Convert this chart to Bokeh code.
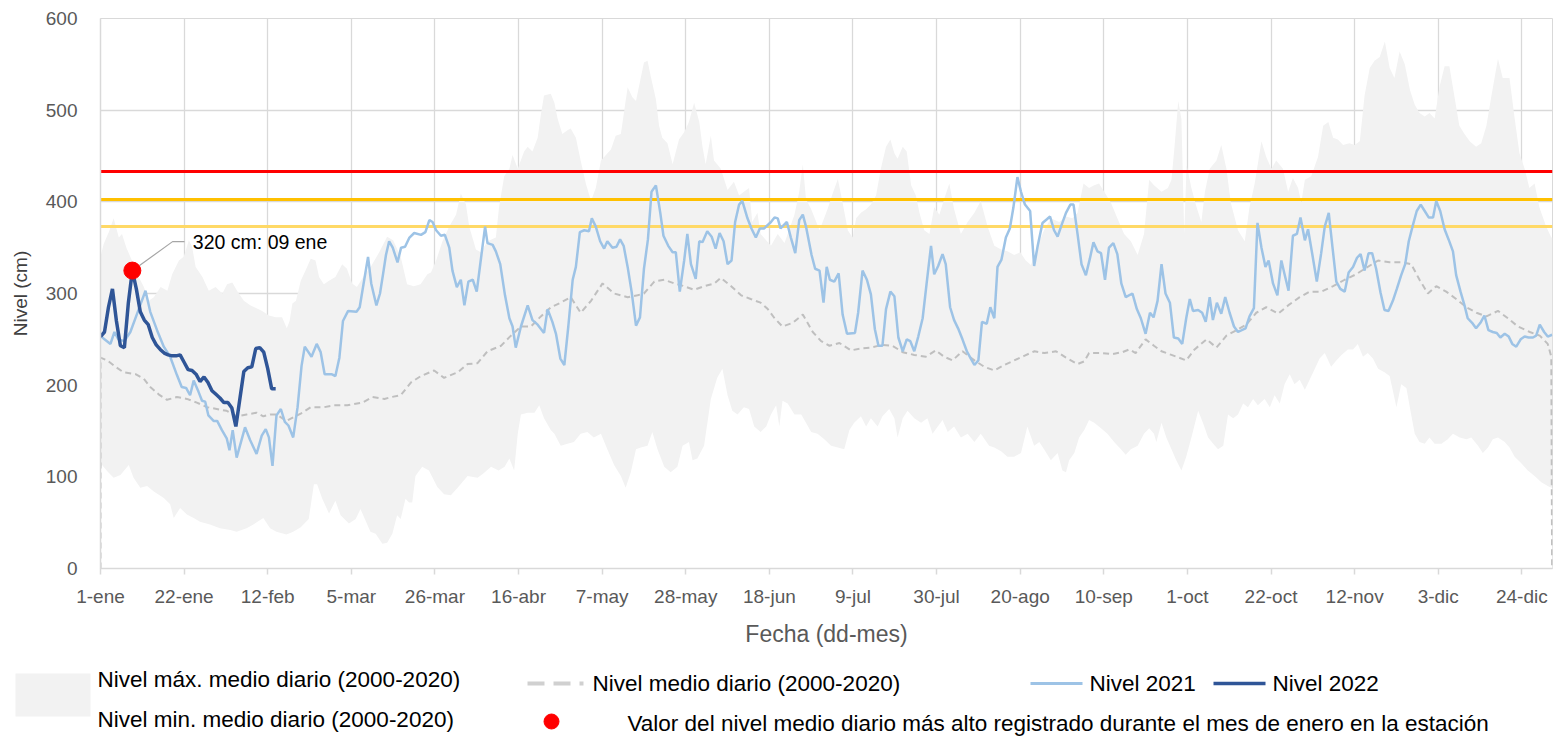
from bokeh.plotting import figure
from bokeh.models import Range1d, FixedTicker, ColumnDataSource
from bokeh.embed import file_html
from bokeh.resources import INLINE
from bokeh.core.properties import value

FONT = "Liberation Sans"

# ---------------- data ----------------
tick_days = [1, 22, 43, 64, 85, 106, 127, 148, 169, 190, 211, 232, 253, 274, 295, 316, 337, 358]
tick_labels = ["1-ene", "22-ene", "12-feb", "5-mar", "26-mar", "16-abr", "7-may", "28-may", "18-jun",
               "9-jul", "30-jul", "20-ago", "10-sep", "1-oct", "22-oct", "12-nov", "3-dic", "24-dic"]

max_days = [1, 1.8, 3.1, 4.3, 5.6, 6.4, 7.5, 9, 10.6, 11.9, 13.1, 14.4, 16.1, 17.8, 19, 20.7, 21.9, 23.2, 24, 24.9,
            26.6, 28.2, 29.9, 31.6, 32.8, 34.1, 35.3, 37, 38.7, 41.6, 43.3, 45, 46.6, 47.8, 48.5, 49.2, 50.1, 51.3,
            52.5, 53.8, 55, 55.9, 57.1, 58.4, 60, 61.7, 62.9, 64.2, 65.4, 67, 69, 71, 73, 74.5, 76.4, 78, 79.7,
            81.4, 83.1, 84, 85.3, 86.9, 88.6, 90.3, 91.5, 92.8, 93.6, 95.3, 96.5, 98.2, 100.3, 101.1, 102.4, 103.7,
            104.5, 105.8, 107.4, 108.3, 109.5, 110.8, 111.6, 112.4, 114.1, 115, 115.8, 117, 118.3, 119.1, 120.4,
            121.6, 122.9, 124.2, 125.4, 126.7, 127.5, 129.2, 130.4, 131.7, 133.4, 134.6, 135.5, 136.3, 137.5,
            138.4, 139.2, 140.5, 141.3, 142.1, 143.4, 144.7, 146.3, 147.6, 148.8, 150.1, 151.4, 152.2, 153, 154.3,
            155.1, 156.8, 158.5, 160.1, 161.4, 162.6, 163.9, 164.7, 166, 166.8, 169.4, 171.1, 172.8, 175.3, 176.5,
            177.4, 178.2, 179.5, 181.6, 183.6, 184.9, 186.2, 187.4, 188.7, 189.9, 190.8, 192, 193.3, 194.5, 195.8,
            197, 198.3, 199.4, 200.4, 201.2, 202.5, 203.5, 204.6, 205.8, 206.7, 207.9, 209.2, 210.4, 211.7, 212.9,
            214.2, 215.4, 217.1, 218.8, 220.5, 222.1, 223.8, 225.5, 227.2, 228.8, 230.5, 232, 233.4, 234.7, 236.4,
            238, 239.7, 241.8, 243.5, 245.1, 246.4, 247.9, 249.3, 250.6, 251.8, 253.1, 254.8, 256.4, 258.1, 259.8,
            261.5, 263.1, 264.4, 265.6, 267.5, 269.1, 270, 270.8, 271.7, 272.5, 273.2, 273.8, 275, 276.3, 277.5,
            278.4, 279.6, 281.3, 282.5, 283.8, 284.9, 286.7, 288.4, 289.6, 290.9, 292.6, 293.8, 295.1, 296.3, 298,
            299.3, 300.5, 301.8, 302.6, 303.5, 305.1, 306.8, 308.1, 309.4, 310.6, 311.8, 313.1, 314.7, 316, 317.3,
            318.5, 319.8, 321, 322.3, 323.6, 324.8, 326, 327.3, 328.6, 329.9, 331.1, 332.3, 333.6, 334.8, 336.1,
            337.3, 338.6, 339.8, 341.1, 342.3, 343.6, 344.9, 346.5, 347.8, 349.1, 350.3, 352, 353.2, 354.9, 356.2,
            357.4, 358.7, 359.9, 361.2, 362.4, 364.1, 365.4, 365.7]
max_vals = [340, 354, 367, 382, 361, 365, 350, 335, 318, 307, 292, 296, 307, 303, 321, 336, 340, 358, 351, 329,
            318, 303, 307, 300, 310, 312, 303, 292, 287, 281, 276, 274, 274, 262, 270, 289, 292, 314,
            325, 338, 336, 318, 310, 314, 318, 332, 327, 311, 307, 318, 330, 345, 362, 358, 340, 310, 308,
            310, 321, 323, 336, 357, 373, 386, 409, 397, 373, 348, 345, 357, 361, 394, 428, 436,
            451, 436, 455, 460, 455, 470, 495, 516, 518, 508, 491, 474, 478, 480, 470,
            445, 420, 401, 415, 445, 449, 457, 472, 474, 525, 514, 510, 527, 552,
            554, 537, 512, 483, 470, 464, 441, 468, 476, 487, 508, 487, 460, 441, 472,
            445, 436, 413, 422, 407, 411, 415, 378, 388, 365, 352, 365, 355, 386, 411,
            441, 403, 392, 369, 392, 409, 425, 399, 369, 361, 382, 388, 392, 397, 407,
            436, 460, 468, 453, 447, 460, 455, 418, 407, 388, 369, 365, 394, 386, 403,
            420, 392, 365, 378, 388, 401, 373, 352, 348, 346, 342, 345, 336, 331, 352,
            369, 382, 378, 384, 382, 388, 420, 415, 418, 420, 411, 399, 382, 365, 357,
            342, 365, 424, 418, 411, 415, 424, 462, 510, 490, 365, 440, 415, 394, 378,
            411, 436, 445, 462, 436, 399, 369, 357, 394, 420, 466, 449, 436, 445, 436,
            411, 426, 415, 399, 424, 428, 449, 483, 487, 470, 468, 462, 464, 462, 466,
            516, 546, 554, 558, 575, 546, 535, 564, 550, 522, 506, 497, 493, 497, 491,
            525, 548, 548, 514, 483, 474, 466, 460, 464, 483, 514, 556, 535, 535, 491,
            453, 436, 415, 420, 394, 373, 361, 361]

min_days = [1, 1.4, 2.7, 4.3, 6, 8.1, 9.3, 11, 12.7, 14.4, 16.9, 18.5, 19.4, 21, 22.7, 24.4, 26, 28.5, 31, 33.6,
            35.2, 37.7, 39.4, 41.9, 43.6, 45.2, 47.7, 49.4, 51.3, 53.3, 54.6, 55.4, 56.7, 58.4, 60, 61.3, 63.4,
            65.1, 66.3, 68.8, 70.1, 71.8, 73, 74.3, 75.5, 76.4, 77.6, 78.5, 79.3, 80.1, 81.8, 83.5, 85.6, 87.3,
            89, 90.7, 93.2, 95.7, 97, 99.1, 101, 102.5, 103.7, 104.9, 105.8, 106.6, 108.3, 110, 111.2, 112.4,
            114.1, 115, 116.6, 118.3, 119.9, 121.6, 123.3, 124.9, 126.7, 128.3, 130, 131.7, 132.9, 134.2, 135.5,
            136.7, 138.4, 139.6, 140.9, 142.6, 144.2, 145.9, 147.2, 148.8, 149.7, 150.9, 152.6, 154.3, 155.9,
            157.2, 158.5, 159.7, 161, 162.6, 163.9, 165.2, 166.8, 168.2, 169.4, 170.7, 171.5, 172.3, 173.6,
            175.3, 177, 178.2, 179.5, 181.1, 182.8, 184.5, 186.2, 187.8, 189.1, 190.3, 192, 193.3, 194.5, 196.2,
            197.4, 199.1, 200.4, 201.2, 202.5, 203.7, 205.4, 207.1, 208.7, 210, 211.3, 212.5, 213.8, 215.4,
            217.1, 218.8, 220.5, 222.1, 224.2, 225.5, 227.2, 228.8, 230.5, 232.2, 233.8, 235.5, 236.8, 238,
            239.7, 241.4, 242.6, 243.5, 244.3, 245.6, 246.8, 248.1, 249.3, 250.6, 252.3, 253.9, 255.6, 257.3,
            258.5, 259.8, 261.5, 263.1, 264.4, 265.6, 266.2, 267.5, 268.7, 270, 271.2, 272.5, 273.7, 275, 276.7,
            277.9, 279.2, 280.9, 281.7, 283, 284.2, 285.5, 286.7, 288, 289.2, 290.5, 291.7, 293.4, 294.7, 295.9,
            297.2, 298.4, 299.7, 300.9, 302.2, 303.5, 304.7, 306, 307.2, 308.5, 310.1, 311.4, 312.7, 314.3,
            315.6, 316.8, 318.1, 319.3, 320.6, 321.9, 323.5, 324.8, 326.5, 327.7, 329, 330.2, 331.1, 332.3,
            333.6, 334.8, 336.1, 337.8, 339.4, 340.7, 342.4, 344.1, 345.3, 347, 348.2, 349.5, 350.7, 352, 353.7,
            354.9, 356.2, 357.8, 359.5, 361.2, 362.9, 364.5, 365.4, 365.7]
min_vals = [110, 113, 106, 99, 102, 113, 99, 88, 90, 84, 77, 70, 55, 66, 59, 55, 51, 48, 44, 42,
            40, 44, 48, 55, 44, 40, 37, 40, 45, 54, 92, 92, 76, 60, 74, 58, 49,
            54, 65, 40, 38, 27, 28, 38, 58, 54, 76, 72, 72, 101, 111, 107, 89, 81,
            80, 88, 101, 99, 103, 111, 107, 111, 120, 107, 147, 168, 170, 170, 178, 164,
            151, 147, 134, 136, 138, 147, 149, 143, 147, 130, 113, 101, 88, 105, 130,
            132, 134, 149, 130, 111, 105, 111, 134, 138, 118, 120, 134, 185, 208,
            218, 189, 172, 168, 176, 174, 155, 149, 155, 168, 178, 155, 183, 180,
            168, 168, 159, 149, 147, 141, 134, 132, 130, 151, 159, 166, 155, 164, 155,
            166, 174, 164, 143, 164, 172, 164, 159, 164, 147, 155, 162, 149, 155,
            143, 147, 138, 147, 134, 132, 128, 122, 122, 126, 155, 134, 138, 130,
            118, 126, 107, 105, 118, 126, 143, 151, 162, 159, 153, 147, 138, 130,
            124, 130, 134, 147, 153, 147, 138, 159, 143, 130, 118, 107, 122, 143, 172,
            159, 143, 134, 130, 134, 168, 164, 168, 180, 176, 185, 178, 185, 176, 189,
            180, 201, 212, 201, 206, 195, 206, 218, 229, 235, 220, 227, 233, 239,
            239, 245, 231, 235, 229, 218, 214, 210, 176, 201, 197, 168, 147, 138,
            136, 143, 136, 136, 141, 147, 143, 141, 143, 134, 126, 132, 141, 143, 138,
            132, 122, 115, 107, 101, 94, 90, 88, 88]

mean_days = [1, 1, 2.7, 4.8, 6.8, 9.8, 11.9, 13.5, 15.6, 17.7, 20.2, 22.7, 25.2, 27.7, 30.2, 32.7, 35.2, 37.7,
             40.2, 41.9, 43.6, 45.2, 47.7, 49.4, 51.3, 53.8, 57.2, 59.7, 63, 66.8, 69.3, 72.3, 74, 76.4, 79,
             81.5, 84.8, 87.3, 90.7, 93.2, 95.7, 98.2, 101.6, 104.1, 106.6, 109.1, 111.6, 114.1, 116.6, 119.1,
             121.6, 124.2, 127.1, 130, 133.4, 135.9, 137.5, 140.1, 142.6, 145.1, 147.6, 150.1, 152.6, 155.2,
             156.8, 159.4, 161.9, 164.3, 166.8, 168.6, 170.3, 172.3, 174.9, 177.4, 179.9, 182, 184.1, 186.6,
             189.5, 192, 194.5, 197.4, 199.9, 202.5, 205.4, 208.3, 210.8, 212.9, 215, 217.5, 220.5, 223, 225.5,
             228, 230.5, 233, 235.6, 238.1, 241, 243.5, 246.4, 248.1, 249.3, 252.3, 255.2, 257.7, 259.4, 261,
             263.5, 265.6, 267.5, 270, 273.7, 275.8, 278.8, 281.3, 283.8, 286.3, 288.8, 291.3, 293.8, 296.8,
             299.3, 302.2, 304.7, 307.6, 310.6, 313.5, 316.4, 318.9, 321.9, 324.8, 328.1, 330.2, 332.3, 334.4,
             336.5, 339, 341.5, 344.1, 346.6, 349.1, 352, 354.5, 357, 360, 362.5, 364.5, 365.4, 365.6]
mean_vals = [0, 230, 227, 220, 214, 212, 207, 198, 190, 184, 187, 185, 181, 176, 174, 172, 166, 168,
             170, 166, 168, 168, 161, 165, 169, 176, 176, 178, 178, 181, 187, 185, 187, 189, 203,
             210, 216, 208, 214, 223, 224, 237, 243, 254, 264, 264, 275, 285, 290, 296,
             279, 292, 311, 300, 296, 298, 300, 313, 315, 311, 308, 304, 308, 311,
             317, 308, 298, 294, 290, 283, 273, 264, 268, 277, 258, 248, 243, 246,
             238, 240, 241, 244, 243, 236, 233, 231, 238, 231, 227, 237, 227, 220, 216,
             222, 227, 232, 237, 235, 237, 230, 223, 226, 235, 235, 234, 236, 239, 235,
             250, 243, 237, 233, 227, 239, 250, 241, 254, 260, 266, 279, 285, 278,
             287, 296, 302, 302, 308, 315, 321, 328, 336, 334, 334, 332, 315, 300,
             308, 302, 294, 285, 279, 275, 281, 273, 264, 258, 254, 245, 231, 0]

n2021_days = [1, 2, 3.5, 4.5, 5.5, 7, 8.5, 10.2, 12.3, 13.5, 15.2, 16.9, 18.5, 20.2, 21.4, 22.5, 23.5, 24.4, 25.6,
              26.5, 27.3, 28.1, 29.4, 30.3, 31.5, 32.7, 33.4, 34.2, 35.2, 37.3, 38.6, 40.2, 41.5, 42.5, 43.3, 44.2,
              45.2, 46.3, 47.3, 48.2, 49.4, 50.5, 51.5, 52.3, 54, 55.3, 56.3, 57.3, 59, 60, 61, 61.9, 63.2, 65.3,
              66.1, 68.2, 69, 70.3, 71.2, 72, 72.7, 73.5, 74.4, 75.6, 76.5, 77.5, 78.6, 79.8, 81.5, 82.6, 83.6,
              84.4, 85.3, 86.5, 87.5, 88.6, 89.4, 90.5, 91.5, 92.4, 93.4, 94.5, 95.5, 96.5, 97.6, 98.2, 99.5,
              100.3, 101.4, 102.6, 103.7, 104.5, 105.3, 106.6, 108.3, 109.5, 110.8, 112.4, 113.3, 114.5, 115.4,
              116.5, 117.5, 118.5, 119.6, 120.4, 121.4, 122.5, 123.7, 124.4, 125.4, 126.5, 127.5, 128.3, 129.6,
              130.6, 131.5, 132.4, 133.4, 134.4, 135.5, 136.5, 137.5, 138.5, 139.4, 140.5, 141.6, 142.4, 143.6,
              144.7, 145.5, 146.5, 147.6, 148.4, 149.3, 150.5, 151.4, 152.2, 153.4, 154.5, 155.5, 156.5, 157.5,
              158.5, 159.5, 160.4, 161.4, 162.2, 163.5, 164.5, 165.6, 166.6, 167.7, 169.4, 170.3, 171.1, 171.8,
              173.4, 174.4, 175.5, 176.5, 177.4, 178.2, 179.6, 180.5, 181.6, 182.6, 183.4, 184.2, 185.3, 186.4,
              187.4, 188.5, 190.5, 191.3, 192.4, 193.5, 194.5, 195.5, 196.4, 197.4, 198.3, 199.4, 200.4, 201.4,
              202.5, 203.5, 204.4, 205.4, 206.4, 207.5, 208.5, 209.6, 210.4, 211.4, 212.5, 213.3, 214.4, 215.4,
              216.4, 217.5, 218.6, 219.6, 220.5, 221.5, 222.4, 223.6, 224.5, 225.5, 226.3, 227.3, 228.4, 229.4,
              230.3, 231.3, 232.2, 233.2, 234.5, 235.5, 236.4, 237.6, 238.7, 239.5, 240.5, 241.4, 242.5, 243.5,
              244.6, 245.4, 246.4, 247.4, 248.5, 249.5, 250.4, 251.4, 252.3, 253.3, 254.3, 255.4, 256.4, 257.4,
              258.5, 260.2, 261.3, 262.3, 263.5, 264.6, 265.5, 266.5, 267.5, 268.5, 269.6, 270.6, 271.7, 272.7,
              273.7, 274.6, 275.4, 276.7, 277.7, 278.6, 279.6, 280.4, 281.4, 282.5, 283.5, 284.6, 285.7, 286.7,
              288.6, 289.6, 290.7, 291.6, 292.6, 293.6, 294.4, 295.5, 296.6, 297.6, 298.4, 299.4, 300.5, 301.5,
              302.4, 303.5, 304.3, 305.4, 306.5, 307.6, 308.5, 309.5, 310.4, 311.4, 312.4, 313.5, 314.5, 315.6,
              316.6, 317.5, 318.5, 319.5, 320.4, 321.4, 322.5, 323.5, 324.5, 325.6, 326.6, 327.7, 328.7, 329.6,
              330.6, 331.6, 332.6, 333.6, 334.6, 335.7, 336.5, 337.5, 338.6, 339.6, 340.7, 341.5, 342.6, 343.6,
              344.4, 345.5, 346.5, 347.6, 348.6, 349.6, 350.7, 351.7, 352.6, 353.7, 354.7, 355.6, 356.6, 357.7,
              358.7, 359.7, 360.8, 361.6, 362.5, 363.6, 364.5, 365.6]
n2021_vals = [254, 250, 245, 258, 250, 248, 258, 278, 303, 280, 260, 242, 231, 211, 198, 197, 189, 205, 193,
              183, 182, 167, 161, 161, 151, 142, 129, 151, 121, 154, 140, 125, 145, 152, 143, 112,
              167, 174, 160, 156, 143, 176, 221, 242, 231, 245, 236, 212, 212, 210, 230, 270, 281, 280,
              285, 340, 311, 287, 300, 322, 342, 357, 350, 334, 350, 351, 361, 366, 364, 367, 380,
              378, 369, 363, 364, 350, 325, 307, 315, 287, 313, 315, 302, 336, 373, 355, 353,
              346, 332, 298, 273, 264, 241, 264, 287, 271, 266, 257, 283, 269, 256,
              229, 222, 264, 315, 329, 367, 369, 368, 382, 373, 357, 349, 357, 350,
              351, 359, 352, 329, 302, 265, 274, 327, 359, 411, 418, 388, 363, 352,
              345, 345, 302, 336, 365, 332, 316, 357, 356, 368, 362, 349, 366, 357,
              332, 336, 378, 397, 401, 382, 371, 361, 371, 371, 378, 383, 382, 371,
              378, 361, 344, 380, 386, 373, 342, 327, 325, 290, 329, 315, 313, 322,
              277, 256, 257, 279, 325, 315, 299, 261, 243, 243, 283, 302, 297, 252,
              237, 250, 248, 237, 253, 273, 311, 352, 321, 330, 343, 332, 285, 271,
              262, 250, 237, 229, 222, 227, 269, 267, 285, 273, 329, 337, 361, 371,
              394, 427, 411, 397, 390, 330, 352, 377, 381, 384, 369, 362, 376, 388,
              397, 397, 365, 332, 320, 338, 356, 346, 344, 315, 350, 355, 343, 311,
              296, 300, 283, 273, 256, 279, 274, 292, 332, 300, 290, 252, 251, 245,
              273, 294, 281, 282, 279, 269, 296, 271, 290, 278, 296, 279, 264, 258,
              262, 275, 284, 377, 350, 329, 336, 311, 298, 336, 321, 303, 363, 365,
              383, 358, 370, 342, 313, 344, 373, 388, 352, 313, 305, 302, 323, 329,
              339, 343, 325, 344, 344, 327, 301, 282, 281, 292, 305, 320, 332, 357,
              374, 390, 397, 390, 383, 383, 401, 390, 370, 359, 346, 320, 302, 287,
              273, 268, 262, 268, 276, 260, 258, 257, 252, 256, 253, 245, 242, 250,
              253, 252, 252, 254, 266, 258, 253, 255]

n2022_days = list(range(1, 46))
n2022_vals = [253, 258, 285, 305, 270, 243, 241, 290, 325, 305, 280, 271, 266, 252, 244, 239, 235, 233, 232,
              232, 233, 225, 217, 216, 212, 204, 209, 203, 194, 190, 186, 181, 181, 175, 155, 185, 215, 219,
              220, 240, 241, 236, 218, 196, 196]

threshold_levels = [433, 402.5, 373]
threshold_colors = ["#FF0000", "#FFC000", "#FFD966"]

annotation_text = "320 cm: 09 ene"

legend_labels = ["Nivel máx. medio diario (2000-2020)", "Nivel min. medio diario (2000-2020)",
                 "Nivel medio diario (2000-2020)", "Nivel 2021", "Nivel 2022",
                 "Valor del nivel medio diario más alto registrado durante el mes de enero en la estación"]

# ---------------- colours ----------------
C_BAND = "#F2F2F2"
C_MEAN = "#BFBFBF"
C_2021 = "#9DC3E6"
C_2022 = "#2F5597"
C_GRID = "#D9D9D9"
C_TEXT = "#595959"

W = 1554
H1 = 656
H2 = 84
X_END = 365.7

p = figure(width=W, height=H1, x_range=Range1d(1, X_END), y_range=Range1d(0, 600),
           toolbar_location=None, output_backend="svg",
           min_border_left=100, min_border_right=2, min_border_top=18, min_border_bottom=H1 - 568)
p.background_fill_color = "white"
p.border_fill_color = "white"
p.outline_line_color = C_GRID
p.outline_line_width = 1

# stacked-area style band: grey up to max, white up to min
p.varea(x=max_days, y1=[0] * len(max_days), y2=max_vals, fill_color=C_BAND)
p.varea(x=min_days, y1=[0] * len(min_days), y2=min_vals, fill_color="white")

thr_src = ColumnDataSource(dict(y=threshold_levels, c=threshold_colors))
p.hspan(y="y", line_color="c", line_width=3, source=thr_src)

p.line(mean_days, mean_vals, line_color=C_MEAN, line_width=2, line_dash="6 4")
p.line(n2021_days, n2021_vals, line_color=C_2021, line_width=2.5)
p.line(n2022_days, n2022_vals, line_color=C_2022, line_width=3.5)

# peak of 2022 with label
pk_i = max(range(len(n2022_vals)), key=lambda i: n2022_vals[i])
pk_x = n2022_days[pk_i]
pk_y = n2022_vals[pk_i]
p.line([pk_x + 1.8, pk_x + 10.1, pk_x + 13.1], [pk_y + 5.5, pk_y + 31.6, pk_y + 31.6],
       line_color="#A6A6A6", line_width=1.2)
p.scatter([pk_x], [pk_y], size=17, fill_color="#FF0000", line_color="#FF0000")
p.text([pk_x + 15.2], [pk_y + 31.6], text=[annotation_text], text_font=value(FONT),
       text_font_size="19.5px", text_baseline="middle", text_align="left", text_color="black")

# axes
p.xaxis.ticker = FixedTicker(ticks=tick_days)
p.xaxis.major_label_overrides = {d: l for d, l in zip(tick_days, tick_labels)}
p.xaxis.minor_tick_line_color = None
p.xaxis.major_tick_out = 6
p.xaxis.major_tick_in = 0
p.xaxis.major_tick_line_color = C_GRID
p.xaxis.major_tick_line_width = 1.5
p.xaxis.axis_line_color = C_GRID
p.xaxis.axis_line_width = 1.5
p.xaxis.major_label_standoff = 11
p.xaxis.major_label_text_font = FONT
p.xaxis.major_label_text_font_size = "19px"
p.xaxis.major_label_text_color = C_TEXT
p.xaxis.axis_label = "Fecha (dd-mes)"
p.xaxis.axis_label_text_font = FONT
p.xaxis.axis_label_text_font_size = "23px"
p.xaxis.axis_label_text_font_style = "normal"
p.xaxis.axis_label_text_color = C_TEXT
p.xaxis.axis_label_standoff = 11

p.yaxis.ticker = FixedTicker(ticks=[0, 100, 200, 300, 400, 500, 600])
p.yaxis.minor_tick_line_color = None
p.yaxis.major_tick_line_color = None
p.yaxis.major_tick_out = 0
p.yaxis.major_tick_in = 0
p.yaxis.axis_line_color = C_GRID
p.yaxis.axis_line_width = 1.5
p.yaxis.major_label_standoff = 23
p.yaxis.major_label_text_font = FONT
p.yaxis.major_label_text_font_size = "19px"
p.yaxis.major_label_text_color = C_TEXT
p.yaxis.axis_label = "Nivel (cm)"
p.yaxis.axis_label_text_font = FONT
p.yaxis.axis_label_text_font_size = "19px"
p.yaxis.axis_label_text_font_style = "normal"
p.yaxis.axis_label_text_color = "#404040"
p.yaxis.axis_label_standoff = 12

p.xgrid.grid_line_color = C_GRID
p.xgrid.grid_line_width = 1.3
p.ygrid.grid_line_color = C_GRID
p.ygrid.grid_line_width = 1.3

# ---------------- legend panel (page pixel coordinates) ----------------
lg = figure(width=W, height=H2, x_range=Range1d(0, W), y_range=Range1d(H1 + H2, H1),
            toolbar_location=None, output_backend="svg", x_axis_type=None, y_axis_type=None,
            min_border=0, min_border_left=0, min_border_right=0, min_border_top=0, min_border_bottom=0)
lg.outline_line_color = None
lg.xgrid.visible = False
lg.ygrid.visible = False

lg.quad(left=[15], right=[90], top=[673], bottom=[716], fill_color=C_BAND, line_color=None)
lg.line([527, 583], [683, 683], line_color="#D0D0D0", line_width=4, line_dash="17 9")
lg.line([1030, 1082], [683, 683], line_color=C_2021, line_width=3)
lg.line([1213, 1265], [683, 683], line_color=C_2022, line_width=3.5)
lg.scatter([551], [721], size=15, fill_color="#FF0000", line_color="#FF0000")

lg.text(x=[97, 97, 592, 1089, 1272, 627], y=[679, 719, 683, 683, 683, 723], text=legend_labels,
        text_font=value(FONT), text_font_size="22.5px", text_baseline="middle", text_align="left",
        text_color="black")

open("out.html", "w").write(file_html([p, lg], INLINE))
